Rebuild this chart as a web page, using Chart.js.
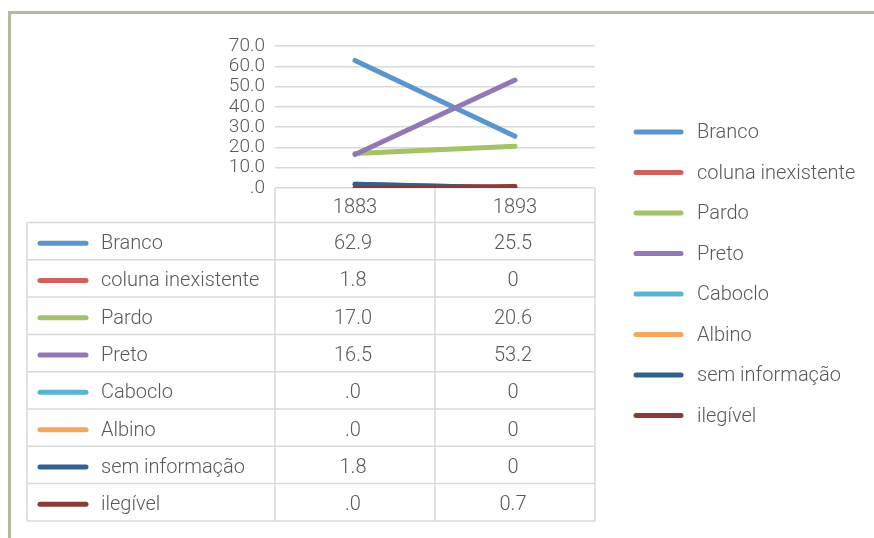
<!DOCTYPE html>
<html>
<head>
<meta charset="UTF-8" />
<title>Cor 1883 x 1893</title>
<script src="https://cdn.jsdelivr.net/npm/chart.js"></script>
<style>
  body { margin: 0; background: #fff; }
  #wrap { position: relative; width: 874px; height: 538px; overflow: hidden; }
  #frame { position: absolute; left: 8px; top: 11px; width: 1000px; height: 1000px;
           border-left: 3px solid #b9b99d; border-top: 3px solid #b9b99d; }
  canvas { position: absolute; left: 0; top: 0; }
</style>
</head>
<body>
<div id="wrap">
  <div id="frame"></div>
  <canvas id="chart" width="874" height="538"></canvas>
</div>
<script>
// categories (years) and series
const years = ['1883', '1893'];
const seriesNames = ['Branco', 'coluna inexistente', 'Pardo', 'Preto', 'Caboclo', 'Albino', 'sem informação', 'ilegível'];
const branco = [62.9, 25.5];
const colunaInexistente = [1.8, 0];
const pardo = [17.0, 20.6];
const preto = [16.5, 53.2];
const caboclo = [0, 0];
const albino = [0, 0];
const semInformacao = [1.8, 0];
const ilegivel = [0, 0.7];
const seriesValues = [branco, colunaInexistente, pardo, preto, caboclo, albino, semInformacao, ilegivel];
const seriesColors = ['#5b95cd', '#d1625b', '#a5c266', '#9279b5', '#58b6d2', '#f8a65a', '#33618d', '#8b3b37'];
const yTicks = [0, 10, 20, 30, 40, 50, 60, 70];

const textColor = '#595959';
const lineColor = '#d9d9d9';
const fontFamily = 'Roboto, "Liberation Sans", sans-serif';

// Excel style number formats: first column "#.0", second column "General"
function fmtDot(v) { return v.toFixed(1).replace(/^0\./, '.'); }
function fmtGeneral(v) { return String(v); }
const columnFormats = [fmtDot, fmtGeneral];

// draws the data table under the plot and the legend on the right
const tableLegend = {
    id: 'tableLegend',
    afterDraw(chart) {
        const ctx = chart.ctx;
        const area = chart.chartArea;
        const x = chart.scales.x;
        const step = x.getPixelForValue(1) - x.getPixelForValue(0);
        const colEdges = [area.left];
        years.forEach((y, i) => colEdges.push(x.getPixelForValue(i) + step / 2));
        colEdges[colEdges.length - 1] = area.right;

        const tableLeft = 27;
        const headerBottom = area.bottom + 34.5;
        const rowH = 37.3;
        const tableBottom = headerBottom + rowH * seriesNames.length;

        ctx.save();
        ctx.strokeStyle = lineColor;
        ctx.lineWidth = 1.5;
        ctx.beginPath();
        // vertical lines of the value columns (from axis down)
        colEdges.forEach(cx => { ctx.moveTo(cx, area.bottom); ctx.lineTo(cx, tableBottom); });
        // left border of the label column
        ctx.moveTo(tableLeft, headerBottom); ctx.lineTo(tableLeft, tableBottom);
        // horizontal lines
        for (let r = 0; r <= seriesNames.length; r++) {
            const yy = headerBottom + r * rowH;
            ctx.moveTo(tableLeft, yy); ctx.lineTo(area.right, yy);
        }
        ctx.stroke();

        ctx.fillStyle = textColor;
        ctx.font = '300 20px ' + fontFamily;
        ctx.textBaseline = 'middle';
        ctx.textAlign = 'center';
        years.forEach((y, i) => {
            ctx.fillText(y, x.getPixelForValue(i), (area.bottom + headerBottom) / 2 + 3);
        });

        ctx.lineCap = 'round';
        seriesNames.forEach((name, r) => {
            const cy = headerBottom + r * rowH + rowH / 2 + 2;
            ctx.strokeStyle = seriesColors[r];
            ctx.lineWidth = 5;
            ctx.beginPath();
            ctx.moveTo(40, cy); ctx.lineTo(86, cy);
            ctx.stroke();
            ctx.textAlign = 'left';
            ctx.fillText(name, 101, cy + 1);
            ctx.textAlign = 'center';
            seriesValues[r].forEach((v, c) => {
                ctx.fillText(columnFormats[c](v), x.getPixelForValue(c) - 2, cy + 1);
            });
        });

        // legend on the right
        seriesNames.forEach((name, r) => {
            const cy = 132 + r * 40.5;
            ctx.strokeStyle = seriesColors[r];
            ctx.lineWidth = 5;
            ctx.beginPath();
            ctx.moveTo(636, cy); ctx.lineTo(681, cy);
            ctx.stroke();
            ctx.textAlign = 'left';
            ctx.fillText(name, 697, cy + 1);
        });
        ctx.restore();
    }
};

const datasets = seriesNames.map((name, i) => ({
    label: name,
    data: seriesValues[i],
    borderColor: seriesColors[i],
    backgroundColor: seriesColors[i],
    borderWidth: 5,
    borderCapStyle: 'round',
    pointRadius: 0,
    tension: 0,
    fill: false,
    order: seriesNames.length - i
}));

new Chart(document.getElementById('chart').getContext('2d'), {
    type: 'line',
    data: { labels: years, datasets: datasets },
    options: {
        responsive: false,
        animation: false,
        layout: { padding: { left: 20, right: 279, top: 46, bottom: 350 } },
        plugins: { legend: { display: false }, tooltip: { enabled: false } },
        scales: {
            x: {
                display: false,
                offset: true
            },
            y: {
                min: 0,
                max: 70,
                afterFit(scale) { scale.width = 255; },
                afterBuildTicks(scale) { scale.ticks = yTicks.map(v => ({ value: v })); },
                border: { display: false },
                grid: { color: lineColor, lineWidth: 1.5, drawTicks: false },
                ticks: {
                    autoSkip: false,
                    color: textColor,
                    padding: 10,
                    font: { family: fontFamily, size: 19, weight: '300' },
                    callback: v => fmtDot(v)
                }
            }
        }
    },
    plugins: [tableLegend]
});
</script>
</body>
</html>
